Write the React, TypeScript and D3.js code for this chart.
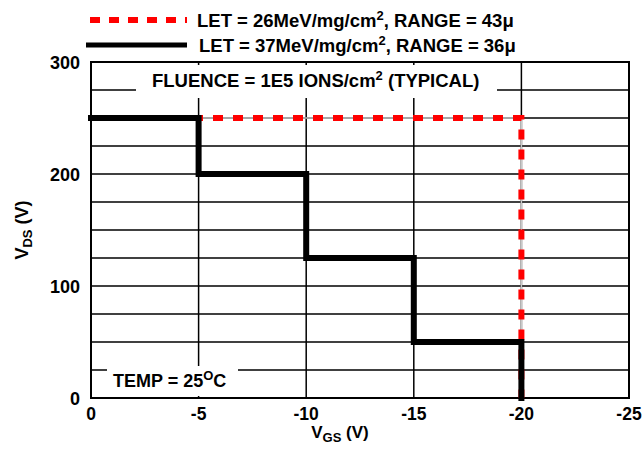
import { useEffect, useRef } from 'react'
import * as d3 from 'd3'

// step data (VGS, VDS)
const let26Vgs = [0, -20, -20]
const let26Vds = [250, 250, 0]
const let37Vgs = [0, -5, -5, -10, -10, -15, -15, -20, -20]
const let37Vds = [250, 250, 200, 200, 125, 125, 50, 50, 0]

const xTicks = [0, -5, -10, -15, -20, -25]
const yTicks = [0, 100, 200, 300]
const yGrid = d3.range(0, 301, 25)

const legendLabels = [
  { pre: 'LET = 26MeV/mg/cm', post: ', RANGE = 43\u03bc' },
  { pre: 'LET = 37MeV/mg/cm', post: ', RANGE = 36\u03bc' },
]

const FONT = "'Liberation Sans', Arial, sans-serif"

export default function App() {
  const svgRef = useRef<SVGSVGElement>(null)

  useEffect(() => {
    if (!svgRef.current) return
    const svg = d3.select(svgRef.current)
    svg.selectAll('*').remove()

    const x = d3.scaleLinear().domain([0, -25]).range([91, 629])
    const y = d3.scaleLinear().domain([0, 300]).range([398, 62])

    const g = svg.append('g').attr('font-family', FONT).attr('font-weight', 'bold')

    // grid
    g.selectAll('.hgrid')
      .data(yGrid)
      .enter()
      .append('line')
      .attr('x1', x(0))
      .attr('x2', x(-25))
      .attr('y1', (d) => y(d))
      .attr('y2', (d) => y(d))
      .attr('stroke', '#000')
      .attr('stroke-width', 1.5)

    g.selectAll('.vgrid')
      .data(xTicks)
      .enter()
      .append('line')
      .attr('x1', (d) => x(d))
      .attr('x2', (d) => x(d))
      .attr('y1', y(0))
      .attr('y2', y(300))
      .attr('stroke', '#000')
      .attr('stroke-width', 1.5)

    // border
    g.append('rect')
      .attr('x', x(0))
      .attr('y', y(300))
      .attr('width', x(-25) - x(0))
      .attr('height', y(0) - y(300))
      .attr('fill', 'none')
      .attr('stroke', '#000')
      .attr('stroke-width', 2)

    // annotation boxes
    g.append('rect').attr('x', 136).attr('y', 65).attr('width', 361).attr('height', 33).attr('fill', '#fff')
    const fl = g.append('text').attr('x', 152).attr('y', 87).attr('font-size', 18.5)
    fl.append('tspan').text('FLUENCE = 1E5 IONS/cm')
    fl.append('tspan').attr('font-size', 13).attr('dy', -7).text('2')
    fl.append('tspan').attr('dy', 7).text(' (TYPICAL)')

    g.append('rect').attr('x', 107).attr('y', 366).attr('width', 131).attr('height', 30).attr('fill', '#fff')
    const tp = g.append('text').attr('x', 113).attr('y', 387).attr('font-size', 18)
    tp.append('tspan').text('TEMP = 25')
    tp.append('tspan').attr('font-size', 13).attr('dy', -7).text('O')
    tp.append('tspan').attr('dy', 7).text('C')

    const line = d3
      .line<number>()
      .x((_, i) => x(let26Vgs[i]))
      .y((d) => y(d))

    const line37 = d3
      .line<number>()
      .x((_, i) => x(let37Vgs[i]))
      .y((d) => y(d))

    // red dashed series with thin grey underlay
    g.append('path')
      .attr('d', line(let26Vds))
      .attr('fill', 'none')
      .attr('stroke', '#c8c8c8')
      .attr('stroke-width', 1.5)
    g.append('path')
      .attr('d', line(let26Vds))
      .attr('fill', 'none')
      .attr('stroke', '#ff0000')
      .attr('stroke-width', 6)
      .attr('stroke-dasharray', '10 10')
      .attr('stroke-dashoffset', -2)

    g.append('path')
      .attr('d', line37(let37Vds))
      .attr('fill', 'none')
      .attr('stroke', '#000')
      .attr('stroke-width', 6)
      .attr('stroke-linecap', 'square')

    // tick labels
    g.selectAll('.xt')
      .data(xTicks)
      .enter()
      .append('text')
      .attr('x', (d) => x(d))
      .attr('y', 420)
      .attr('text-anchor', 'middle')
      .attr('font-size', 17.5)
      .text((d) => String(d))

    g.selectAll('.yt')
      .data(yTicks)
      .enter()
      .append('text')
      .attr('x', 80)
      .attr('y', (d) => y(d) + 7)
      .attr('text-anchor', 'end')
      .attr('font-size', 18)
      .text((d) => String(d))

    // axis titles
    const xt = g.append('text').attr('x', 340).attr('y', 438).attr('text-anchor', 'middle').attr('font-size', 17)
    xt.append('tspan').text('V')
    xt.append('tspan').attr('font-size', 13).attr('dy', 4).text('GS')
    xt.append('tspan').attr('dy', -4).text(' (V)')

    const yt = g
      .append('text')
      .attr('transform', 'translate(28,230) rotate(-90)')
      .attr('text-anchor', 'middle')
      .attr('font-size', 18)
    yt.append('tspan').text('V')
    yt.append('tspan').attr('font-size', 13).attr('dy', 4).text('DS')
    yt.append('tspan').attr('dy', -4).text(' (V)')

    // legend
    g.append('line')
      .attr('x1', 90)
      .attr('x2', 187)
      .attr('y1', 20)
      .attr('y2', 20)
      .attr('stroke', '#ff0000')
      .attr('stroke-width', 6)
      .attr('stroke-dasharray', '10 9')
    g.append('line')
      .attr('x1', 86)
      .attr('x2', 187)
      .attr('y1', 45)
      .attr('y2', 45)
      .attr('stroke', '#000')
      .attr('stroke-width', 5)

    legendLabels.forEach((l, i) => {
      const t = g
        .append('text')
        .attr('x', i === 0 ? 197 : 199)
        .attr('y', 27 + i * 25)
        .attr('font-size', 18.5)
      t.append('tspan').text(l.pre)
      t.append('tspan').attr('font-size', 13).attr('dy', -7).text('2')
      t.append('tspan').attr('dy', 7).text(l.post)
    })
  }, [])

  return (
    <svg
      ref={svgRef}
      width={643}
      height={449}
      style={{ display: 'block', position: 'absolute', left: 0, top: 0, background: '#fff' }}
    />
  )
}
